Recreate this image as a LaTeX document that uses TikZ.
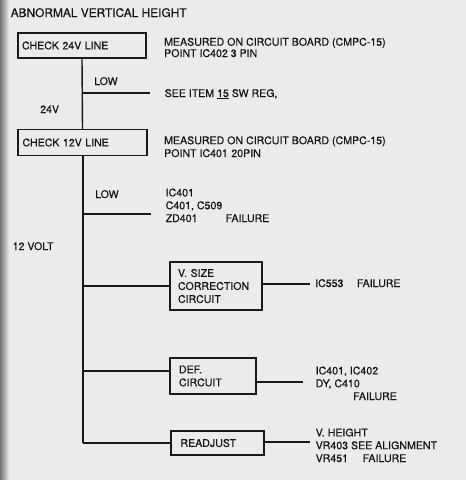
\documentclass[tikz,border=0pt]{standalone}
\usepackage{fontspec}
\setmainfont{TeX Gyre Heros}[FakeBold=0.35]
\begin{document}
\begin{tikzpicture}[x=1pt,y=-1pt,
  txt/.style={anchor=base west,inner sep=0pt,align=left,text=black!92,
    font=\fontsize{10.6}{12.8}\selectfont},
  boxnode/.style={draw=black!90,line width=1.3pt,rectangle,align=left,
    inner ysep=0pt,text=black!92,font=\fontsize{10.6}{13}\selectfont},
  wire/.style={draw=black!90,line width=1.4pt}]
\useasboundingbox (0,0) rectangle (466,480);
\fill[black!8] (0,0) rectangle (466,480);
\shade[left color=black!55,right color=black!8] (0,0) rectangle (9,480);

\node[txt,font=\fontsize{11.9}{14}\selectfont] (title) at (10.5,17) {ABNORMAL VERTICAL HEIGHT};

% boxes
\node[boxnode,minimum width=128pt,minimum height=25pt,text width=120pt,inner xsep=4pt] (b1) at (82,45.5) {CHECK 24V LINE};
\node[boxnode,minimum width=129pt,minimum height=26pt,text width=120pt,inner xsep=4.5pt] (b2) at (82.5,142.5) {CHECK 12V LINE};
\node[boxnode,minimum width=92pt,minimum height=48pt,text width=76pt,inner xsep=8pt] (vs) at (216,286) {V. SIZE\\CORRECTION\\CIRCUIT};
\node[boxnode,minimum width=86pt,minimum height=36pt,text width=68pt,inner xsep=9pt] (def) at (213,376) {DEF.\\CIRCUIT};
\node[boxnode,minimum width=93pt,minimum height=24pt,text width=74pt,inner xsep=9.5pt] (ra) at (217.5,443) {READJUST};

% texts (multi-line nodes: base = last line)
\node[txt] (m1) at (164,57) {MEASURED ON CIRCUIT BOARD (CMPC-15)\\[-1.5pt]POINT IC402 3 PIN};
\node[txt] (low1) at (94,85) {LOW};
\node[txt] (see) at (164.5,97) {SEE ITEM \underline{15} SW REG,};
\node[txt] (v24) at (40,113) {24V};
\node[txt] (m2) at (164,157) {MEASURED ON CIRCUIT BOARD (CMPC-15)\\POINT IC401\,\,20PIN};
\node[txt] (low2) at (95,198) {LOW};
\node[txt] (f1) at (165.5,222) {IC401\\C401, C509\\\makebox[60pt][l]{ZD401}FAILURE};
\node[txt] (v12) at (12.5,250) {12 VOLT};
\node[txt] (f2) at (315,287) {\makebox[41.7pt][l]{IC553}FAILURE};
\node[txt] (f3) at (315.5,400) {IC401, IC402\\DY, C410\\\hspace*{37.5pt}FAILURE};
\node[txt] (f4) at (315.5,462) {V. HEIGHT\\VR403 SEE ALIGNMENT\\\makebox[47pt][l]{VR451}FAILURE};

% junctions and free ends
\coordinate (j1) at (82,93);
\coordinate (e1) at (150,93);
\coordinate (j2) at (83,214);
\coordinate (e2) at (151,214);
\coordinate (j3) at (83,286);
\coordinate (e3) at (310,284);
\coordinate (j4) at (83,371);
\coordinate (e4) at (303,382);
\coordinate (j5) at (83,443);
\coordinate (e5) at (310,442);

% connectors
\draw[wire] (b1.south) -- (b2.north);
\draw[wire] (j1) -- (e1);
\draw[wire] (b2.south -| j2) -- (j5);
\draw[wire] (j2) -- (e2);
\draw[wire] (j3) -- (vs.west);
\draw[wire] (vs.east |- e3) -- (e3);
\draw[wire] (j4) -- (j4 -| def.west);
\draw[wire] (def.east |- e4) -- (e4);
\draw[wire] (j5) -- (ra.west);
\draw[wire] (ra.east |- e5) -- (e5);
\end{tikzpicture}
\end{document}
